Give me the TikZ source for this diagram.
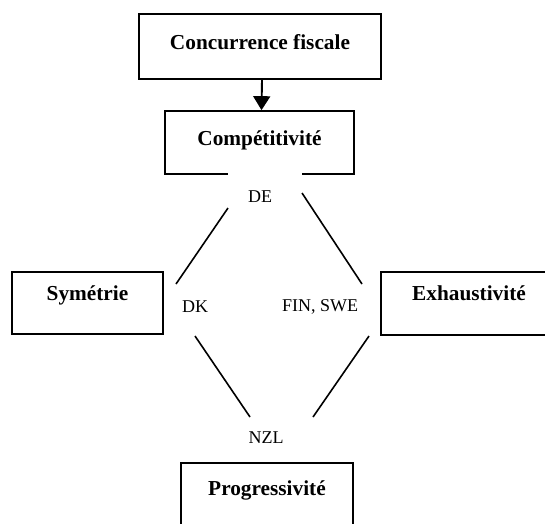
\documentclass[tikz,border=0pt]{standalone}
\usepackage{fontspec}
\setmainfont{Liberation Serif}
\usetikzlibrary{arrows.meta}
\begin{document}
\begin{tikzpicture}[x=1pt,y=-1pt,
  box/.style={draw, line width=1.7pt, inner sep=0pt, text height=15pt,
    font=\fontsize{21.3}{24}\selectfont\bfseries},
  lbl/.style={inner sep=0pt, font=\fontsize{18}{21}\selectfont},
  link/.style={line width=1.6pt},
  arr/.style={line width=1.9pt, -{Triangle[length=14pt,width=17pt]}}]
\useasboundingbox (0,0) rectangle (545,523);
\begin{scope}
\clip (0,0) rectangle (545,523);
% boxes
\node[box, minimum width=242pt, minimum height=65pt, text depth=9pt] (cf) at (260,46.5) {Concurrence fiscale};
\node[box, minimum width=189pt, minimum height=63pt, text depth=9pt] (comp) at (259.5,142.5) {Compétitivité};
\node[box, minimum width=151pt, minimum height=62pt, text depth=20pt] (sym) at (87.5,303) {Symétrie};
\node[box, minimum width=176pt, minimum height=63pt, text depth=21pt] (exh) at (469,303.5) {Exhaustivité};
\node[box, minimum width=172pt, minimum height=63pt, text depth=13pt] (prog) at (267,494.5) {Progressivité};
% white gap over the bottom border of Compétitivité
\fill[white] (228,170) rectangle (302,179);
% labels
\node[lbl] (de) at (260,197) {DE};
\node[lbl] (dk) at (195,307) {DK};
\node[lbl] (fs) at (320,307) {FIN, SWE};
\node[lbl] (nzl) at (266,438) {NZL};
% arrow
\draw[arr] ([xshift=2pt]cf.south) -- ([xshift=2pt]comp.north);
% connector end points
\coordinate (a1) at (228,208); \coordinate (a2) at (176,284);
\coordinate (b1) at (302,193); \coordinate (b2) at (362,284);
\coordinate (c1) at (195,336); \coordinate (c2) at (250,417);
\coordinate (d1) at (369,336); \coordinate (d2) at (313,417);
\draw[link] (a1) -- (a2);
\draw[link] (b1) -- (b2);
\draw[link] (c1) -- (c2);
\draw[link] (d1) -- (d2);
\end{scope}
\end{tikzpicture}
\end{document}
